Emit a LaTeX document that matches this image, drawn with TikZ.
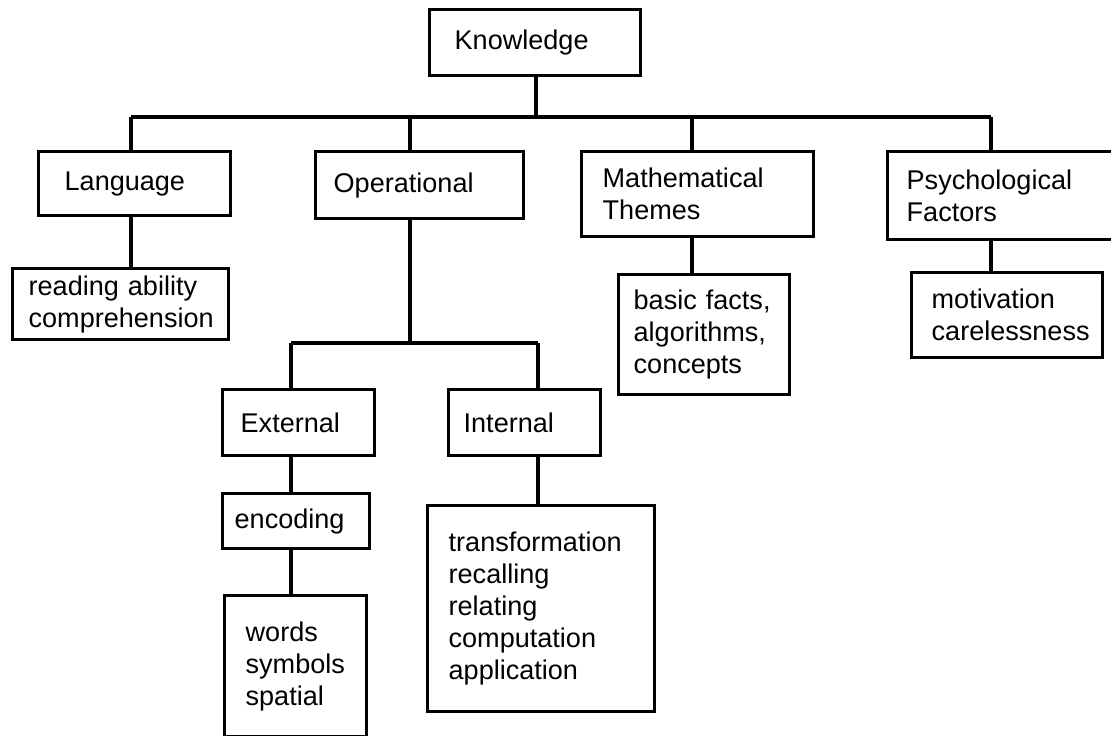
\documentclass[tikz,border=0pt]{standalone}
\usepackage{fontspec}
\setmainfont{Liberation Sans}
\tikzset{
  box/.style={draw, line width=0.95pt, anchor=north west, align=left, inner ysep=0pt,
    font=\fontsize{7.7}{9.1}\selectfont},
  pad/.style={inner xsep=#1},
}
\begin{document}
\begin{tikzpicture}[line width=0.95pt]
   \useasboundingbox (0,0) rectangle (11.11,7.36);
   % top level
   \node[box, pad=0.25cm, text width=1.61cm, minimum height=0.66cm] (know) at (4.28,7.28) {Knowledge};
   \node[box, pad=0.26cm, text width=1.40cm, minimum height=0.64cm] (lang) at (0.37,5.86) {Language};
   \node[box, pad=0.18cm, text width=1.72cm, minimum height=0.67cm] (op) at (3.14,5.86) {Operational};
   \node[box, pad=0.21cm, text width=1.90cm, minimum height=0.85cm] (math) at (5.80,5.86) {Mathematical\\Themes};
   \node[box, pad=0.19cm, text width=2.02cm, minimum height=0.88cm] (psy) at (8.86,5.86) {Psychological\\Factors};
   % second level
   \node[box, pad=0.16cm, text width=1.84cm, minimum height=0.71cm] (read) at (0.11,4.69) {reading ability\\comprehension};
   \node[box, pad=0.15cm, text width=1.41cm, minimum height=1.20cm] (basic) at (6.17,4.63) {basic facts,\\algorithms,\\concepts};
   \node[box, pad=0.20cm, text width=1.51cm, minimum height=0.85cm] (motiv) at (9.10,4.65) {motivation\\carelessness};
   % under operational
   \node[box, pad=0.18cm, text width=1.16cm, minimum height=0.66cm] (ext) at (2.21,3.48) {External};
   \node[box, pad=0.15cm, text width=1.22cm, minimum height=0.66cm] (int) at (4.47,3.48) {Internal};
   \node[box, pad=0.12cm, text width=1.23cm, minimum height=0.55cm] (enc) at (2.21,2.44) {encoding};
   \node[box, pad=0.21cm, text width=1.00cm, minimum height=1.415cm] (words) at (2.23,1.42) {words\\symbols\\spatial};
   \node[box, pad=0.21cm, text width=1.85cm, minimum height=2.06cm] (trans) at (4.26,2.32) {transformation\\recalling\\relating\\computation\\application};
   % bus lines
   \coordinate (kj) at (5.36,6.19);
   \coordinate (lj) at (1.31,6.19);
   \coordinate (oj) at (4.10,6.19);
   \coordinate (mj) at (6.92,6.19);
   \coordinate (pj) at (9.91,6.19);
   \draw (lj) -- (pj);
   \draw (know.south -| kj) -- (kj);
   \foreach \j/\n in {lj/lang, oj/op, mj/math, pj/psy}
     \draw (\j) -- (\n.north -| \j);
   \draw (lang.south -| lj) -- (read.north -| lj);
   \draw (math.south -| mj) -- (basic.north -| mj);
   \draw (psy.south -| pj) -- (motiv.north -| pj);
   \coordinate (sj) at (4.10,3.93);
   \coordinate (ej) at (2.91,3.93);
   \coordinate (ij) at (5.38,3.93);
   \draw (op.south -| sj) -- (sj);
   \draw (ej) -- (ij);
   \draw (ej) -- (ext.north -| ej);
   \draw (ij) -- (int.north -| ij);
   \draw (ext.south -| ej) -- (enc.north -| ej);
   \draw (enc.south -| ej) -- (words.north -| ej);
   \draw (int.south -| ij) -- (trans.north -| ij);
\end{tikzpicture}
\end{document}
